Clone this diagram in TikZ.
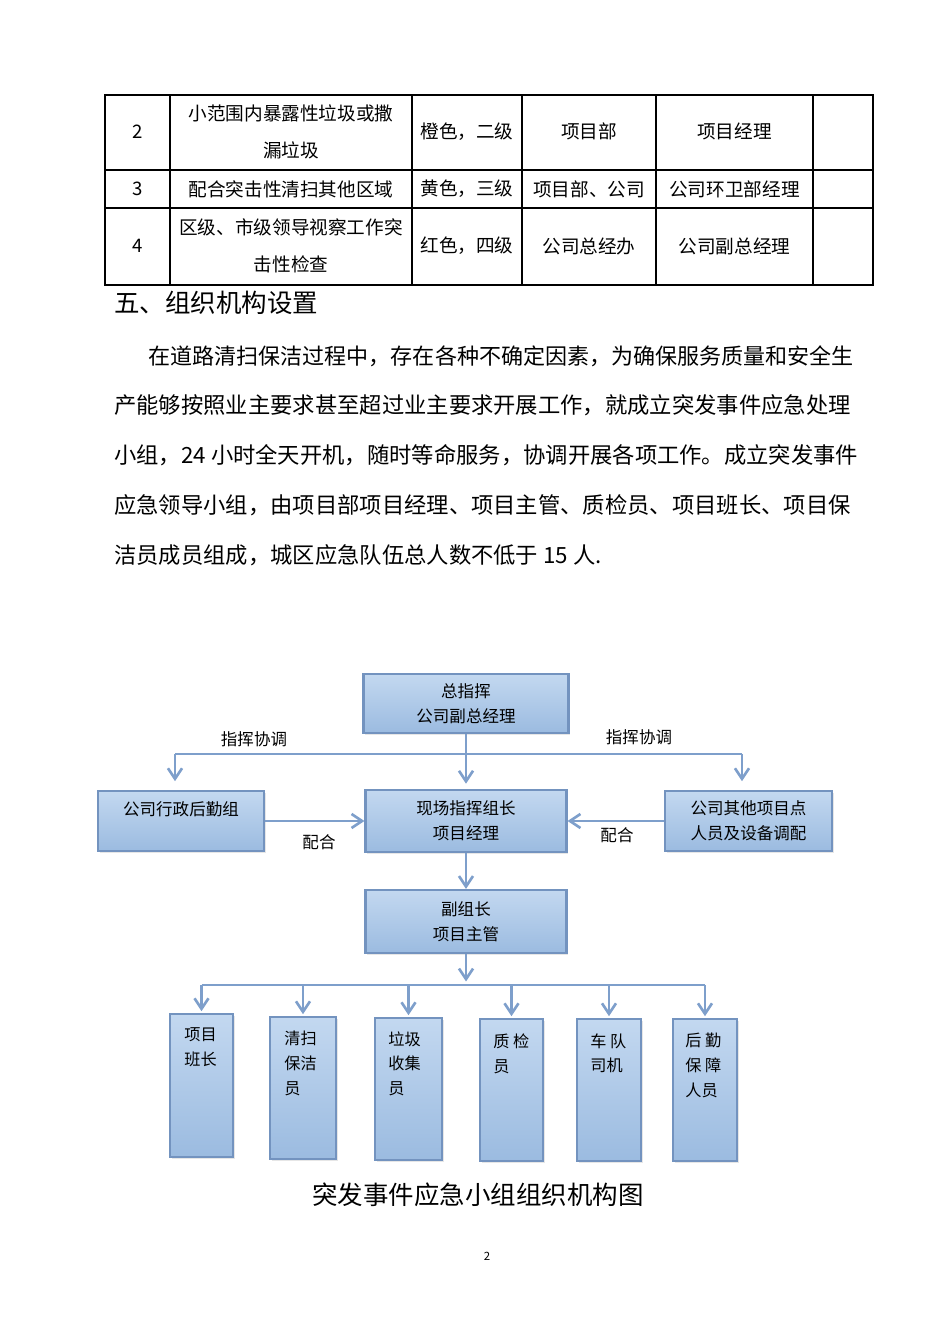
\documentclass[tikz,border=0pt]{standalone}
\usepackage{fontspec}
\setmainfont{Noto Sans CJK SC}
\usetikzlibrary{positioning, calc, arrows.meta, shadows}
\usepackage{xcolor}

\definecolor{boxtop}{HTML}{C3D8F0}
\definecolor{boxbot}{HTML}{9BBBE0}
\definecolor{boxline}{HTML}{7393BF}
\definecolor{linkblue}{HTML}{7E9FCB}

\tikzset{
  orgbox/.style={draw=boxline, line width=1.2pt, top color=boxtop, bottom color=boxbot,
    align=center, inner sep=0pt, font=\fontsize{9.4}{14.2}\selectfont,
    drop shadow={opacity=0.2, shadow xshift=1pt, shadow yshift=-1pt}},
  memtext/.style={anchor=north west, align=left, inner sep=0pt, font=\fontsize{9.2}{14.2}\selectfont},
  lbl/.style={inner sep=0pt, font=\fontsize{9.4}{12}\selectfont},
  cell/.style={align=center, inner sep=0pt, font=\fontsize{10.6}{21}\selectfont},
  bodyline/.style={anchor=west, inner sep=0pt, font=\fontsize{12.7}{16}\selectfont},
  link/.style={draw=linkblue, line width=1.5pt},
  linkarrow/.style={link, -{Straight Barb[length=6pt,width=8pt]}}
}

\begin{document}
\begin{tikzpicture}[x=0.02cm, y=-0.02cm]
            \useasboundingbox (0,0) rectangle (950,1344);

            % table
            \draw[line width=0.8pt] (105,95) rectangle (873,285);
            \draw[line width=0.8pt] (105,170) -- (873,170);
            \draw[line width=0.8pt] (105,208) -- (873,208);
            \foreach \cx in {170,412,522,656,813}
              \draw[line width=0.8pt] (\cx,95) -- (\cx,285);

            \node[cell] (n2) at (137.5,132) {2};
            \node[cell] (n3) at (137.5,189) {3};
            \node[cell] (n4) at (137.5,246) {4};
            \node[cell] (case2) at (291,131.5) {小范围内暴露性垃圾或撒\\漏垃圾};
            \node[cell] (case3) at (291,189) {配合突击性清扫其他区域};
            \node[cell] (case4) at (291,245.5) {区级、市级领导视察工作突\\击性检查};
            \node[cell] (lvl2) at (467,131.5) {橙色，二级};
            \node[cell] (lvl3) at (467,189) {黄色，三级};
            \node[cell] (lvl4) at (467,246) {红色，四级};
            \node[cell] (dept2) at (589,131.5) {项目部};
            \node[cell] (dept3) at (589,189) {项目部、公司};
            \node[cell] (dept4) at (589,246) {公司总经办};
            \node[cell] (head2) at (734.5,131.5) {项目经理};
            \node[cell] (head3) at (734.5,189) {公司环卫部经理};
            \node[cell] (head4) at (734.5,246) {公司副总经理};

            % heading and text
            \node[anchor=west, inner sep=0pt, font=\fontsize{14.5}{18}\selectfont] (title) at (114,303) {五、组织机构设置};
            \node[bodyline, font=\fontsize{12.55}{16}\selectfont] (p1) at (148,356) {在道路清扫保洁过程中，存在各种不确定因素，为确保服务质量和安全生};
            \node[bodyline] (p2) at (114,405) {产能够按照业主要求甚至超过业主要求开展工作，就成立突发事件应急处理};
            \node[bodyline] (p3) at (114,455) {小组，24 小时全天开机，随时等命服务，协调开展各项工作。成立突发事件};
            \node[bodyline] (p4) at (114,505) {应急领导小组，由项目部项目经理、项目主管、质检员、项目班长、项目保};
            \node[bodyline] (p5) at (114,555) {洁员成员组成，城区应急队伍总人数不低于 15 人.};

            % chart boxes
            \node[orgbox, minimum width=4.1cm, minimum height=1.18cm] (chief) at (466,703.5) {总指挥\\公司副总经理};
            \node[orgbox, minimum width=3.32cm, minimum height=1.2cm] (admin) at (181,821) {公司行政后勤组\\\mbox{}};
            \node[orgbox, minimum width=4.02cm, minimum height=1.24cm] (onsite) at (466,821) {现场指挥组长\\项目经理};
            \node[orgbox, minimum width=3.34cm, minimum height=1.2cm] (other) at (748.5,821) {公司其他项目点\\人员及设备调配};
            \node[orgbox, minimum width=4.02cm, minimum height=1.26cm] (deputy) at (466,921.5) {副组长\\项目主管};

            \node[orgbox, minimum width=1.26cm, minimum height=2.86cm] (m1) at (201.5,1085.5) {};
            \node[orgbox, minimum width=1.32cm, minimum height=2.84cm] (m2) at (303,1088) {};
            \node[orgbox, minimum width=1.34cm, minimum height=2.84cm] (m3) at (408.5,1089) {};
            \node[orgbox, minimum width=1.26cm, minimum height=2.84cm] (m4) at (511.5,1090) {};
            \node[orgbox, minimum width=1.28cm, minimum height=2.84cm] (m5) at (609,1090) {};
            \node[orgbox, minimum width=1.28cm, minimum height=2.84cm] (m6) at (705,1090) {};

            \node[memtext] (m1txt) at (184,1027) {项目\\班长};
            \node[memtext] (m2txt) at (284,1031) {清扫\\保洁\\员};
            \node[memtext] (m3txt) at (388,1031) {垃圾\\收集\\员};
            \node[memtext] (m4txt) at (493,1033) {质 检\\员};
            \node[memtext] (m5txt) at (590,1033) {车 队\\司机};
            \node[memtext] (m6txt) at (685,1033) {后 勤\\保 障\\人员};

            % connectors
            \coordinate (cmdL) at (175,754);
            \coordinate (cmdR) at (742,754);
            \draw[link] (cmdL) -- (cmdR);
            \draw[linkarrow, shorten >=3pt] (chief) -- (onsite);
            \draw[linkarrow, shorten >=5pt] (cmdL) -- (cmdL |- admin.north);
            \draw[linkarrow, shorten >=5pt] (cmdR) -- (cmdR |- other.north);
            \draw[linkarrow] (admin) -- (onsite);
            \draw[linkarrow] (other) -- (onsite);
            \draw[linkarrow] (onsite) -- (deputy);

            \coordinate (teamC) at (466,985);
            \draw[link] (m1.north |- teamC) -- (m6.north |- teamC);
            \draw[linkarrow, shorten >=2pt] (deputy) -- (teamC);
            \foreach \m in {m1,m2,m3,m4,m5,m6}
              \draw[linkarrow, shorten >=1pt] (\m.north |- teamC) -- (\m.north);

            \node[lbl] (cmd1) at (254,739) {指挥协调};
            \node[lbl] (cmd2) at (639,737) {指挥协调};
            \node[lbl] (co1) at (319,842) {配合};
            \node[lbl] (co2) at (617,835) {配合};

            % caption
            \node[inner sep=0pt, font=\fontsize{14.5}{18}\selectfont] (caption) at (478,1195) {突发事件应急小组组织机构图};
            \node[inner sep=0pt, font=\fontsize{6.5}{8}\selectfont] (pageno) at (487,1256) {2};
        \end{tikzpicture}
\end{document}
